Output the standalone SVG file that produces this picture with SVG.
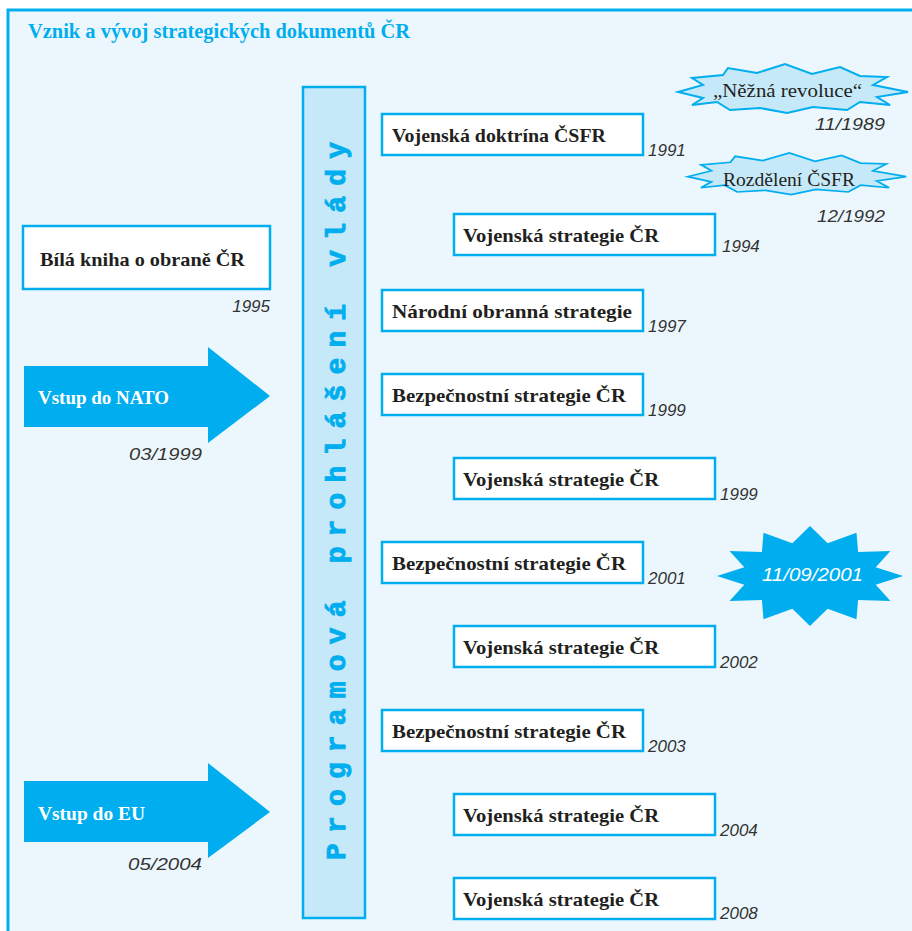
<svg xmlns="http://www.w3.org/2000/svg" width="912" height="931" viewBox="0 0 912 931">
<style>
.box{fill:#ffffff;stroke:#00aeef;stroke-width:2.5}
.bt{font-family:"Liberation Serif","DejaVu Serif",serif;font-weight:bold;font-size:19.5px;fill:#231f20}
.yr{font-family:"Liberation Sans","DejaVu Sans",sans-serif;font-style:italic;font-size:17px;fill:#333333}
.arrow{fill:#00aeef}
.at{font-family:"Liberation Serif","DejaVu Serif",serif;font-weight:bold;font-size:19.5px;fill:#ffffff}
.burst{fill:#c6e9f9;stroke:#00aeef;stroke-width:2}
.bst{font-family:"Liberation Serif","DejaVu Serif",serif;font-size:19px;fill:#231f20}
</style>
<defs>
<polygon id="star" points="-114,2 -89,-5 -100,-12 -69,-15 -64,-22 -35,-17 -7,-26 20,-16 48,-23 68,-14 95,-13 81,-5 116,2 85,7 98,15 68,12 55,20 21,17 -5,23 -32,18 -62,20 -75,12 -100,15 -89,8"/>
</defs>
<rect width="912" height="931" fill="#ffffff"/>
<rect x="8" y="10" width="930" height="950" fill="#ecf7fd" stroke="#00aeef" stroke-width="3"/>
<text x="28" y="38" font-family="Liberation Serif, DejaVu Serif, serif" font-weight="bold" font-size="20" fill="#00aeef" textLength="382" lengthAdjust="spacingAndGlyphs">Vznik a vývoj strategických dokumentů ČR</text>

<g id="bar">
<rect x="303" y="87" width="62" height="831" fill="#c6e9f9" stroke="#00aeef" stroke-width="2.5"/>
<text transform="translate(345,860) rotate(-90)" font-family="Liberation Mono, DejaVu Sans Mono, monospace" font-weight="bold" font-size="28" fill="#00aeef" stroke="#00aeef" stroke-width="0.9" textLength="718" lengthAdjust="spacing">Programová prohlášení vlády</text>
</g>

<g id="bila-kniha">
<rect class="box" x="23" y="226" width="247" height="63"/>
<text class="bt" x="40" y="266" textLength="205" lengthAdjust="spacingAndGlyphs">Bílá kniha o obraně ČR</text>
<text class="yr" x="270" y="312" text-anchor="end">1995</text>
</g>

<g id="nato">
<polygon class="arrow" points="24,366 208,366 208,347 270,396 208,443 208,427 24,427"/>
<text class="at" x="38" y="404" textLength="131" lengthAdjust="spacingAndGlyphs">Vstup do NATO</text>
<text class="yr" x="202" y="460" text-anchor="end" textLength="73" lengthAdjust="spacingAndGlyphs">03/1999</text>
</g>

<g id="eu">
<polygon class="arrow" points="24,781 208,781 208,763 270,812 208,858 208,842 24,842"/>
<text class="at" x="38" y="820" textLength="107" lengthAdjust="spacingAndGlyphs">Vstup do EU</text>
<text class="yr" x="202" y="870" text-anchor="end" textLength="74" lengthAdjust="spacingAndGlyphs">05/2004</text>
</g>

<g id="doc-1991">
<rect class="box" x="382" y="114" width="261" height="41"/>
<text class="bt" x="392" y="142" textLength="214" lengthAdjust="spacingAndGlyphs">Vojenská doktrína ČSFR</text>
<text class="yr" x="648" y="156">1991</text>
</g>
<g id="doc-1994">
<rect class="box" x="454" y="214" width="261" height="41"/>
<text class="bt" x="463" y="242" textLength="196" lengthAdjust="spacingAndGlyphs">Vojenská strategie ČR</text>
<text class="yr" x="722" y="252">1994</text>
</g>
<g id="doc-1997">
<rect class="box" x="382" y="290" width="261" height="41"/>
<text class="bt" x="392" y="318" textLength="240" lengthAdjust="spacingAndGlyphs">Národní obranná strategie</text>
<text class="yr" x="648" y="332">1997</text>
</g>
<g id="doc-1999a">
<rect class="box" x="382" y="374" width="261" height="41"/>
<text class="bt" x="392" y="402" textLength="234" lengthAdjust="spacingAndGlyphs">Bezpečnostní strategie ČR</text>
<text class="yr" x="648" y="416">1999</text>
</g>
<g id="doc-1999b">
<rect class="box" x="454" y="458" width="261" height="41"/>
<text class="bt" x="463" y="486" textLength="196" lengthAdjust="spacingAndGlyphs">Vojenská strategie ČR</text>
<text class="yr" x="720" y="500">1999</text>
</g>
<g id="doc-2001">
<rect class="box" x="382" y="542" width="261" height="41"/>
<text class="bt" x="392" y="570" textLength="234" lengthAdjust="spacingAndGlyphs">Bezpečnostní strategie ČR</text>
<text class="yr" x="648" y="584">2001</text>
</g>
<g id="doc-2002">
<rect class="box" x="454" y="626" width="261" height="41"/>
<text class="bt" x="463" y="654" textLength="196" lengthAdjust="spacingAndGlyphs">Vojenská strategie ČR</text>
<text class="yr" x="720" y="668">2002</text>
</g>
<g id="doc-2003">
<rect class="box" x="382" y="710" width="261" height="41"/>
<text class="bt" x="392" y="738" textLength="234" lengthAdjust="spacingAndGlyphs">Bezpečnostní strategie ČR</text>
<text class="yr" x="648" y="752">2003</text>
</g>
<g id="doc-2004">
<rect class="box" x="454" y="794" width="261" height="41"/>
<text class="bt" x="463" y="822" textLength="196" lengthAdjust="spacingAndGlyphs">Vojenská strategie ČR</text>
<text class="yr" x="720" y="836">2004</text>
</g>
<g id="doc-2008">
<rect class="box" x="454" y="878" width="261" height="41"/>
<text class="bt" x="463" y="906" textLength="196" lengthAdjust="spacingAndGlyphs">Vojenská strategie ČR</text>
<text class="yr" x="720" y="919">2008</text>
</g>

<g id="nezna-revoluce">
<use href="#star" class="burst" transform="translate(792,90)"/>
<text class="bst" x="713" y="97" textLength="149" lengthAdjust="spacingAndGlyphs">„Něžná revoluce“</text>
<text class="yr" x="885" y="130" text-anchor="end" textLength="70" lengthAdjust="spacingAndGlyphs">11/1989</text>
</g>

<g id="rozdeleni">
<use href="#star" class="burst" transform="translate(796,175) scale(0.95,0.85)"/>
<text class="bst" x="723" y="186" textLength="132" lengthAdjust="spacingAndGlyphs">Rozdělení ČSFR</text>
<text class="yr" x="885" y="222" text-anchor="end" textLength="68" lengthAdjust="spacingAndGlyphs">12/1992</text>
</g>

<g id="sept11">
<polygon fill="#00aeef" transform="translate(810,576)" points="93,0 65.7,8.8 80.5,25 48.1,24 46.5,43.3 17.6,32.8 0,50 -17.6,32.8 -46.5,43.3 -48.1,24 -80.5,25 -65.7,8.8 -93,0 -65.7,-8.8 -80.5,-25 -48.1,-24 -46.5,-43.3 -17.6,-32.8 0,-50 17.6,-32.8 46.5,-43.3 48.1,-24 80.5,-25 65.7,-8.8"/>
<text x="762" y="581" font-family="Liberation Sans, DejaVu Sans, sans-serif" font-style="italic" font-size="19" fill="#ffffff" textLength="101" lengthAdjust="spacingAndGlyphs">11/09/2001</text>
</g>

<g id="connectors"/>
</svg>
